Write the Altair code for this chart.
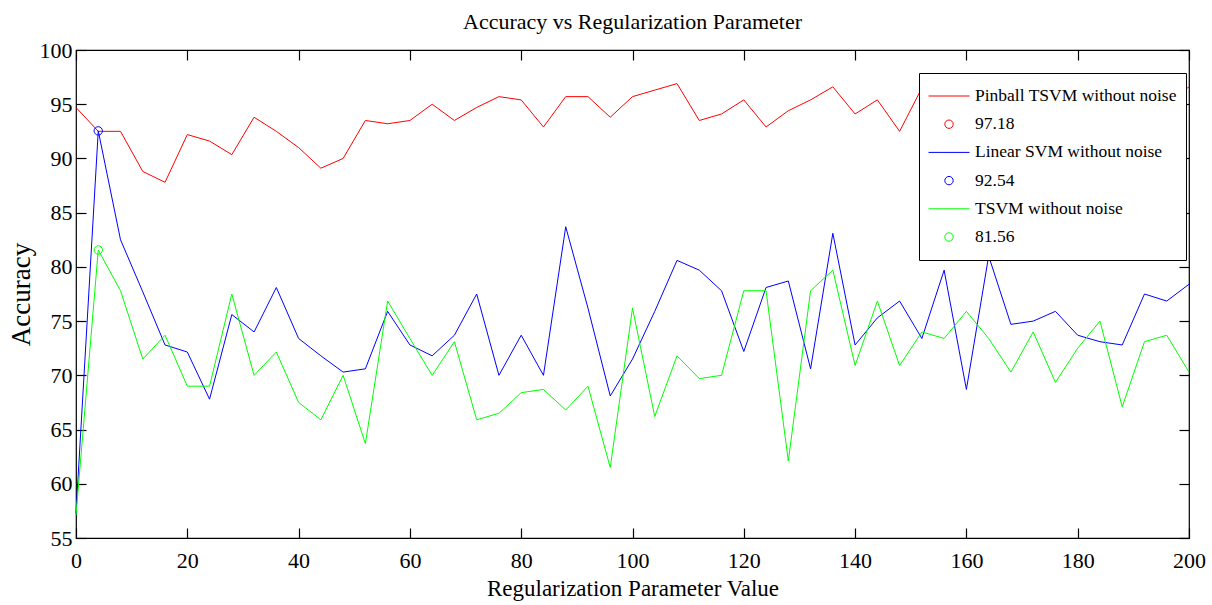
import altair as alt
import pandas as pd

# ---- data ----
x_values = list(range(0, 201, 4))

pinball = [94.7, 92.5, 92.5, 88.8, 87.8, 92.2, 91.6, 90.35, 93.8, 92.5,
           91.0, 89.1, 90.0, 93.5, 93.2, 93.5, 95.0, 93.5, 94.7, 95.7,
           95.4, 92.9, 95.7, 95.7, 93.8, 95.7, 96.3, 96.9, 93.5, 94.1,
           95.4, 92.9, 94.4, 95.4, 96.6, 94.1, 95.4, 92.5, 96.5, 95.2,
           94.3, 96.0, 95.0, 97.18, 94.6, 95.8, 93.9, 95.5, 94.8, 95.2,
           96.6]

linear = [57.3, 92.54, 82.5, 77.7, 72.8, 72.15, 67.8, 75.6, 74.0, 78.1,
          73.4, 71.8, 70.3, 70.6, 75.9, 72.8, 71.8, 73.7, 77.5, 70.0,
          73.7, 70.0, 83.7, 76.2, 68.1, 71.5, 75.9, 80.6, 79.7, 77.8,
          72.2, 78.1, 78.7, 70.6, 83.1, 72.8, 75.3, 76.85, 73.4, 79.7,
          68.7, 81.0, 74.7, 75.0, 75.9, 73.7, 73.1, 72.8, 77.5, 76.85,
          78.4]

tsvm = [57.1, 81.56, 77.8, 71.5, 73.7, 69.0, 69.0, 77.5, 70.0, 72.15,
        67.5, 65.9, 70.0, 63.7, 76.85, 73.4, 70.0, 73.1, 65.9, 66.5,
        68.4, 68.7, 66.8, 69.0, 61.5, 76.2, 66.2, 71.8, 69.7, 70.0,
        77.8, 77.8, 62.1, 77.8, 79.7, 70.9, 76.85, 70.9, 74.0, 73.4,
        75.9, 73.4, 70.3, 74.0, 69.35, 72.5, 75.0, 67.1, 73.1, 73.7,
        70.3]

series_names = ["Pinball TSVM without noise", "Linear SVM without noise", "TSVM without noise"]
marker_labels = ["97.18", "92.54", "81.56"]
marker_x = [172, 4, 4]
marker_y = [97.18, 92.54, 81.56]
series_colors = ["#ff0000", "#0000ff", "#00ff00"]

x_ticks = list(range(0, 201, 20))
y_ticks = list(range(55, 101, 5))

# ---- tables ----
rows = []
for name, vals in zip(series_names, [pinball, linear, tsvm]):
    for xv, yv in zip(x_values, vals):
        rows.append({"x": xv, "y": yv, "label": name})
df_lines = pd.DataFrame(rows)
df_pts = pd.DataFrame({"x": marker_x, "y": marker_y, "label": marker_labels})

domain, color_range, shape_range, size_range = [], [], [], []
for name, mk, col in zip(series_names, marker_labels, series_colors):
    domain += [name, mk]
    color_range += [col, col]
    shape_range += ["stroke", "circle"]
    size_range += [1681, 70]

FONT = "Liberation Serif"

legend = alt.Legend(
    title=None, orient="none", legendX=843, legendY=23,
    fillColor="white", strokeColor="black", padding=9,
    labelFont=FONT, labelFontSize=17.5, labelColor="black", labelOffset=5,
    labelLimit=400, clipHeight=28, rowPadding=0.2, symbolStrokeWidth=1,
)

x_scale = alt.Scale(domain=[0, 200], nice=False)
y_scale = alt.Scale(domain=[55, 100], nice=False, zero=False)

common = dict(domain=False, grid=False, ticks=True, tickSize=10, offset=-10,
              tickColor="black", tickWidth=1.2, labelFont=FONT, labelFontSize=22,
              labelColor="black", labelFlush=False, titleFont=FONT, titleColor="black",
              titleFontWeight="normal")

color_enc = alt.Color("label:N", scale=alt.Scale(domain=domain, range=color_range), legend=legend)

lines = alt.Chart(df_lines).mark_line(strokeWidth=1).encode(
    x=alt.X("x:Q", scale=x_scale,
            axis=alt.Axis(orient="bottom", values=x_ticks, title="Regularization Parameter Value",
                          titleFontSize=23, labelPadding=12, titlePadding=6, **common)),
    y=alt.Y("y:Q", scale=y_scale,
            axis=alt.Axis(orient="left", values=y_ticks, title="Accuracy",
                          titleFontSize=27, labelPadding=4, titlePadding=4, **common)),
    color=color_enc,
)

points = alt.Chart(df_pts).mark_point(filled=False, strokeWidth=1, opacity=1).encode(
    x=alt.X("x:Q", scale=x_scale,
            axis=alt.Axis(orient="top", values=x_ticks, labels=False, title=None, **common)),
    y=alt.Y("y:Q", scale=y_scale,
            axis=alt.Axis(orient="right", values=y_ticks, labels=False, title=None, **common)),
    color=color_enc,
    shape=alt.Shape("label:N", scale=alt.Scale(domain=domain, range=shape_range), legend=legend),
    size=alt.Size("label:N", scale=alt.Scale(type="ordinal", domain=domain, range=size_range), legend=legend),
)

chart = alt.layer(lines, points).resolve_axis(x="independent", y="independent").properties(
    width=1113, height=488,
    autosize=alt.AutoSizeParams(type="none"),
    padding={"left": 76, "top": 50, "right": 23, "bottom": 67},
    background="white",
    title=alt.Title("Accuracy vs Regularization Parameter", font=FONT, fontSize=22,
                    fontWeight="normal", color="black", anchor="middle",
                    baseline="alphabetic", offset=-12),
).configure_view(stroke="black", strokeWidth=1.2)

chart.save("out.html", embed_options={"renderer": "svg", "actions": False})
